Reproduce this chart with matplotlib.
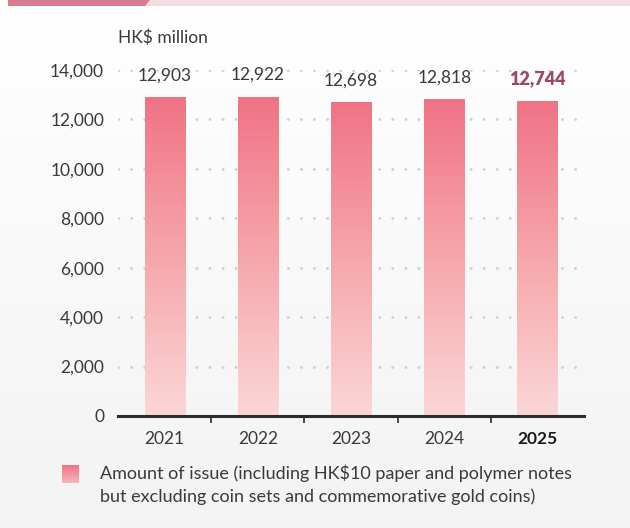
import numpy as np
import matplotlib.pyplot as plt
from matplotlib.colors import LinearSegmentedColormap
from matplotlib.patches import Polygon, Rectangle

years = ["2021", "2022", "2023", "2024", "2025"]
values = [12903, 12922, 12698, 12818, 12744]
y_ticks = [0, 2000, 4000, 6000, 8000, 10000, 12000, 14000]
unit_label = "HK$ million"
legend_text = ("Amount of issue (including HK$10 paper and polymer notes\n"
               "but excluding coin sets and commemorative gold coins)")

plt.rcParams['font.family'] = ['Lato', 'DejaVu Sans']

W, H = 630, 528
fig = plt.figure(figsize=(W / 100, H / 100), dpi=100)

# background: soft white-to-grey gradient
bg = fig.add_axes([0, 0, 1, 1], zorder=-10)
grad = np.linspace(1.0, 0.0, 256).reshape(-1, 1)
bg_cmap = LinearSegmentedColormap.from_list("bg", ["#f3f3f3", "#ffffff"])
bg.imshow(grad, aspect="auto", cmap=bg_cmap, extent=[0, W, 0, H], origin="lower")
bg.set_xlim(0, W)
bg.set_ylim(H, 0)
bg.axis("off")

# header strip at the top
bg.add_patch(Rectangle((140, 0), W - 140, 5.5, color="#f4dde1", lw=0))
bg.add_patch(Polygon([(8, 0), (150, 0), (145, 6), (8, 6)], closed=True,
                     color="#d97b8e", lw=0))

# main axes
x0, x1 = 118, 584
ytop, ybot = 70, 416
ax = fig.add_axes([x0 / W, 1 - ybot / H, (x1 - x0) / W, (ybot - ytop) / H])
ax.patch.set_alpha(0)

x = np.arange(len(years))
bw = 0.43
bars = ax.bar(x, values, width=bw, color="none", zorder=2)

bar_cmap = LinearSegmentedColormap.from_list("bar", ["#fbd6d6", "#f6a7ab", "#f07385"])
for b in bars:
    g = np.linspace(0, 1, 256).reshape(-1, 1)
    im = ax.imshow(g, aspect="auto", cmap=bar_cmap, origin="lower",
                   extent=[b.get_x(), b.get_x() + b.get_width(), 0, b.get_height()],
                   zorder=2)
    im.set_clip_path(b)

ax.set_xlim(-0.5, len(years) - 0.5)
ax.set_ylim(0, 14000)

# dotted gridlines
for t in y_ticks[1:]:
    ax.axhline(t, color="#cfcfcf", lw=2.0, ls=(0, (0.1, 4.6)),
               dash_capstyle="round", zorder=1)

for s in ["top", "right", "left"]:
    ax.spines[s].set_visible(False)
ax.spines["bottom"].set_color("#2b2b2b")
ax.spines["bottom"].set_linewidth(2.2)
ax.spines["bottom"].set_zorder(5)

fs = 12.5
ax.set_yticks(y_ticks)
ax.set_yticklabels([f"{v:,}" for v in y_ticks], fontsize=fs, color="#3a3a3a")
ax.tick_params(axis="y", length=0, pad=10)

ax.set_xticks(x)
ax.set_xticklabels(years, fontsize=fs, color="#3a3a3a")
ax.get_xticklabels()[-1].set_fontweight("bold")
ax.get_xticklabels()[-1].set_color("#1a1a1a")
ax.tick_params(axis="x", length=0, pad=11)
ax.set_xticks(np.arange(0.5, len(years) - 1, 1), minor=True)
ax.tick_params(axis="x", which="minor", length=5, width=1.2, color="#2b2b2b",
               direction="out")

# value labels
for i, v in enumerate(values):
    last = i == len(values) - 1
    ax.text(i, v + 550, f"{v:,}", ha="center", va="bottom",
            fontsize=13 if last else fs,
            fontweight="heavy" if last else "normal",
            color="#9c4a63" if last else "#3a3a3a")

fig.text(118 / W, 1 - 38 / H, unit_label, ha="left", va="center",
         fontsize=fs, color="#3a3a3a")

# legend
leg_ax = fig.add_axes([62 / W, 1 - 483 / H, 17 / W, 18 / H])
leg_ax.imshow(np.linspace(0, 1, 64).reshape(-1, 1), aspect="auto",
              cmap=LinearSegmentedColormap.from_list("lg", ["#f07385", "#f9b5b8"]))
leg_ax.axis("off")
fig.text(100 / W, 1 - 485 / H, legend_text, ha="left", va="center",
         fontsize=13, color="#3a3a3a", linespacing=1.45)

fig.savefig("out.png", dpi=100)
